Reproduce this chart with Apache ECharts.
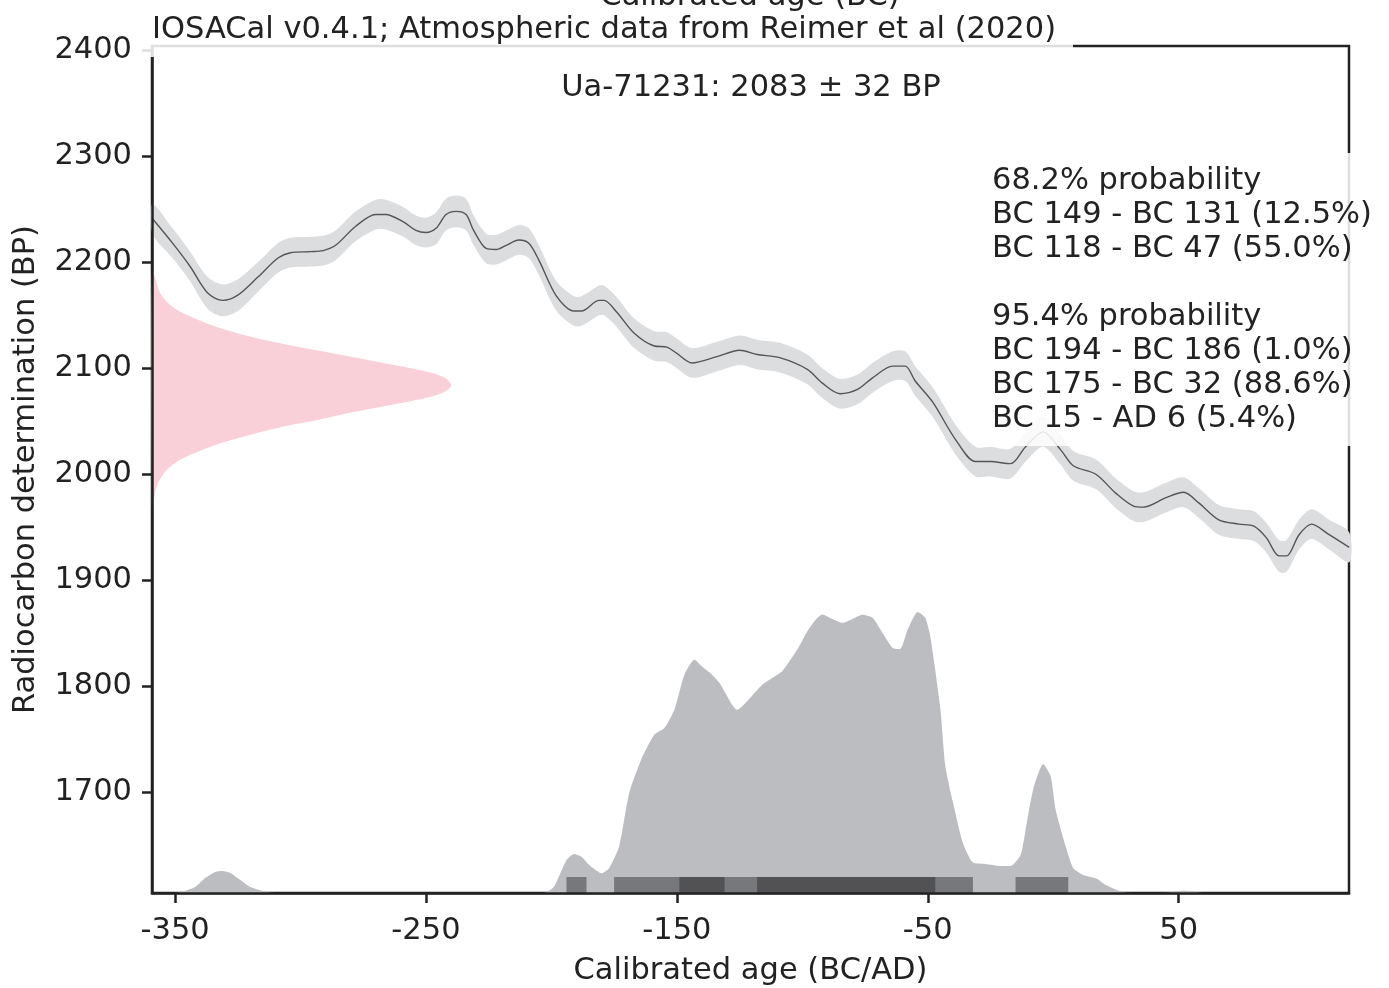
<!DOCTYPE html>
<html>
<head>
<meta charset="utf-8">
<title>Ua-71231 calibration</title>
<script src="https://cdn.jsdelivr.net/npm/echarts@6/dist/echarts.min.js"></script>
<style>
  html, body { margin: 0; padding: 0; background: #fff; }
  #chart { width: 1389px; height: 988px; }
</style>
</head>
<body>
<div id="chart"></div>
<script>
// calibration curve: age, BP, 1 sigma
var curveAge = [-359, -351, -344, -337, -331, -325, -317, -309, -304, -296,
    -291, -286, -278, -270, -266, -259, -254, -250, -246, -242,
    -238, -234, -231, -226, -222, -218, -213, -209, -205, -198,
    -191, -188, -181, -179, -174, -167, -159, -154, -150, -144,
    -134, -125, -118, -109, -98, -92, -85, -78, -72, -64,
    -59, -55, -48, -39, -31, -25, -17, -11, -4, 3,
    8, 17, 25, 32, 36, 45, 52, 58, 66, 74,
    80, 85, 90, 93, 98, 103, 110, 118];
var curveBP = [2241, 2218, 2196, 2171, 2164, 2169, 2186, 2204, 2209, 2210,
    2211, 2216, 2234, 2245, 2245, 2238, 2230, 2228, 2232, 2245,
    2248, 2245, 2230, 2213, 2212, 2216, 2221, 2218, 2202, 2168,
    2154, 2154, 2164, 2164, 2153, 2133, 2121, 2120, 2114, 2105,
    2111, 2117, 2113, 2110, 2099, 2086, 2076, 2080, 2091, 2102,
    2102, 2088, 2068, 2033, 2012, 2012, 2010, 2026, 2040, 2023,
    2008, 2000, 1982, 1970, 1969, 1978, 1983, 1973, 1957, 1953,
    1951, 1940, 1923, 1923, 1943, 1953, 1943, 1931];
var curveErr = [14, 14, 14, 15, 15, 15, 14, 14, 14, 14,
    14, 14, 14, 14, 14, 14, 14, 14, 15, 15,
    15, 15, 14, 14, 14, 14, 14, 14, 14, 14,
    14, 14, 14, 14, 14, 14, 14, 14, 14, 14,
    14, 14, 14, 14, 14, 14, 14, 14, 14, 14,
    14, 14, 14, 14, 14, 14, 14, 14, 14, 14,
    14, 14, 14, 14, 14, 14, 14, 14, 14, 14,
    14, 14, 15, 15, 14, 14, 14, 14];

// radiocarbon determination 2083 +- 32 (relative density)
var pinkBP = [2193, 2171, 2160, 2152, 2139, 2130, 2123, 2117, 2111, 2105, 2099, 2092, 2084,
    2077, 2070, 2064, 2058, 2051, 2045, 2037, 2028, 2015, 2004, 1989, 1970, 1960];
var pinkDens = [0, 0.027, 0.06, 0.104, 0.216, 0.327, 0.438, 0.55, 0.661, 0.772, 0.883, 0.972, 1,
    0.972, 0.883, 0.772, 0.661, 0.55, 0.438, 0.327, 0.216, 0.104, 0.049, 0.016, 0.004, 0];

// calibrated probability (relative)
var distAge = [-350, -347, -342, -338, -334, -331, -328, -324, -320, -315, -310,
    -203, -199, -194, -191, -188, -185, -180, -177, -173, -169,
    -164, -159, -155, -151, -147, -143, -140, -136, -133, -128,
    -126, -124, -120, -116, -112, -108, -102, -98, -94, -92,
    -88, -84, -80, -76, -72, -68, -64, -61, -58, -54,
    -51, -49, -45, -43, -40, -36, -32, -27, -21, -17,
    -13, -11, -8, -4, -1, 1, 5, 8, 12, 17,
    21, 27, 32, 45, 52, 60];
var distP = [0, 0.004, 0.021, 0.053, 0.075, 0.078, 0.071, 0.046, 0.021, 0.007, 0,
    0, 0.022, 0.117, 0.139, 0.129, 0.1, 0.07, 0.088, 0.165, 0.355,
    0.479, 0.562, 0.586, 0.651, 0.776, 0.829, 0.805, 0.776, 0.746, 0.669,
    0.651, 0.663, 0.701, 0.74, 0.764, 0.788, 0.865, 0.93, 0.978, 0.99,
    0.974, 0.96, 0.974, 0.989, 0.978, 0.924, 0.871, 0.867, 0.936, 0.999,
    0.978, 0.912, 0.657, 0.452, 0.324, 0.178, 0.108, 0.103, 0.096, 0.096,
    0.135, 0.224, 0.367, 0.458, 0.414, 0.295, 0.165, 0.088, 0.064, 0.052,
    0.028, 0.005, 0, 0.001, 0.008, 0];

// intervals
var range95 = [[-194, -186], [-175, -32], [-15, 6]];
var range68 = [[-149, -131], [-118, -47]];

var xTicks = [-350, -250, -150, -50, 50];
var yTicks = [1700, 1800, 1900, 2000, 2100, 2200, 2300, 2400];

var boxText = [
    '68.2% probability',
    'BC 149 - BC 131 (12.5%)',
    'BC 118 - BC 47 (55.0%)',
    '',
    '95.4% probability',
    'BC 194 - BC 186 (1.0%)',
    'BC 175 - BC 32 (88.6%)',
    'BC 15 - AD 6 (5.4%)'
].join('\n');

var FONT = '"DejaVu Sans", sans-serif';
var FS = 30.5;
var INK = '#222222';

var chart = echarts.init(document.getElementById('chart'), null, { renderer: 'canvas' });

function bandItem(params, api) {
    if (params.dataIndex !== 0) return;
    var pts = [];
    for (var i = 0; i < curveAge.length; i++) {
        pts.push(api.coord([curveAge[i], curveBP[i] + curveErr[i]]));
    }
    for (var j = curveAge.length - 1; j >= 0; j--) {
        pts.push(api.coord([curveAge[j], curveBP[j] - curveErr[j]]));
    }
    return { type: 'polygon', shape: { points: pts, smooth: 0.3 }, style: { fill: '#dcdddf' } };
}

function pinkItem(params, api) {
    if (params.dataIndex !== 0) return;
    var pts = [];
    for (var i = 0; i < pinkBP.length; i++) {
        pts.push(api.coord([pinkDens[i], pinkBP[i]]));
    }
    return { type: 'polygon', shape: { points: pts, smooth: 0.3 }, style: { fill: '#f9d0d7' } };
}

function barItem(color) {
    return function (params, api) {
        var p0 = api.coord([api.value(0), 0]);
        var p1 = api.coord([api.value(1), 0]);
        return {
            type: 'rect',
            shape: { x: p0[0], y: p0[1] - 16, width: p1[0] - p0[0], height: 16 },
            style: { fill: color }
        };
    };
}

var axisLineStyle = { color: INK, width: 2.5 };

var option = {
    animation: false,
    backgroundColor: '#ffffff',
    grid: {
        left: 152, right: 40, top: 46, bottom: 95,
        outerBoundsMode: 'none', containLabel: false,
        show: true, borderColor: INK, borderWidth: 2.5, backgroundColor: 'transparent'
    },
    xAxis: [
        {
            type: 'value', min: -359.2, max: 117.9, position: 'bottom', z: 10,
            axisLine: { show: true, onZero: false, lineStyle: axisLineStyle },
            axisTick: { show: true, length: 10, customValues: xTicks, lineStyle: axisLineStyle },
            axisLabel: {
                customValues: xTicks, fontSize: FS, fontFamily: FONT, color: INK, margin: 23,
                formatter: function (v) { return String(v); }
            },
            splitLine: { show: false },
            name: 'Calibrated age (BC/AD)', nameLocation: 'middle', nameGap: 63,
            nameTextStyle: { fontSize: FS, fontFamily: FONT, color: INK }
        },
        { type: 'value', min: 0, max: 4, show: false }
    ],
    yAxis: [
        {
            type: 'value', min: 1605, max: 2404, position: 'left', z: 10,
            axisLine: { show: true, onZero: false, lineStyle: axisLineStyle },
            axisTick: { show: true, length: 10, customValues: yTicks, lineStyle: axisLineStyle },
            axisLabel: {
                customValues: yTicks, fontSize: FS, fontFamily: FONT, color: INK, margin: 20,
                formatter: function (v) { return String(v); }
            },
            splitLine: { show: false },
            name: 'Radiocarbon determination (BP)', nameLocation: 'middle', nameGap: 110, nameRotate: 90,
            nameTextStyle: { fontSize: FS, fontFamily: FONT, color: INK }
        },
        { type: 'value', min: 0, max: 3.01, show: false }
    ],
    series: [
        {
            type: 'custom', name: 'band', xAxisIndex: 0, yAxisIndex: 0, z: 2,
            renderItem: bandItem, data: [[curveAge[0], curveBP[0]]], silent: true
        },
        {
            type: 'line', name: 'curve', xAxisIndex: 0, yAxisIndex: 0, z: 3,
            data: curveAge.map(function (a, i) { return [a, curveBP[i]]; }),
            showSymbol: false, symbol: 'none', smooth: 0.3,
            lineStyle: { color: '#555558', width: 1.4 }
        },
        {
            type: 'custom', name: 'pink', xAxisIndex: 1, yAxisIndex: 0, z: 2,
            renderItem: pinkItem, data: [[pinkDens[0], pinkBP[0]]], silent: true
        },
        {
            type: 'line', name: 'calibrated', xAxisIndex: 0, yAxisIndex: 1, z: 2,
            data: distAge.map(function (a, i) { return [a, distP[i]]; }),
            showSymbol: false, symbol: 'none', smooth: 0.2,
            lineStyle: { width: 0, opacity: 0 },
            areaStyle: { color: '#bcbdc1', opacity: 1 }
        },
        {
            type: 'custom', name: '95.4%', xAxisIndex: 0, yAxisIndex: 1, z: 4,
            renderItem: barItem('#77787c'), data: range95, encode: { x: [0, 1] }
        },
        {
            type: 'custom', name: '68.2%', xAxisIndex: 0, yAxisIndex: 1, z: 5,
            renderItem: barItem('#525255'), data: range68, encode: { x: [0, 1] }
        }
    ],
    graphic: {
        elements: [
            {
                type: 'rect', z: 100,
                shape: { x: 140, y: 8, width: 933, height: 49 },
                style: { fill: 'rgba(255,255,255,0.85)' }
            },
            {
                type: 'text', z: 101, x: 152, y: 30,
                style: {
                    text: 'IOSACal v0.4.1; Atmospheric data from Reimer et al (2020)',
                    font: FS + 'px ' + FONT, fill: INK, verticalAlign: 'middle', align: 'left'
                }
            },
            {
                type: 'text', z: 102, x: 750, y: -3,
                style: {
                    text: 'Calibrated age (BC)',
                    font: FS + 'px ' + FONT, fill: INK, verticalAlign: 'middle', align: 'center'
                }
            },
            {
                type: 'text', z: 101, x: 751, y: 88,
                style: {
                    text: 'Ua-71231: 2083 \u00b1 32 BP',
                    font: FS + 'px ' + FONT, fill: INK, verticalAlign: 'middle', align: 'center'
                }
            },
            {
                type: 'rect', z: 100,
                shape: { x: 984, y: 153, width: 400, height: 293 },
                style: { fill: 'rgba(255,255,255,0.85)' }
            },
            {
                type: 'text', z: 101, x: 992, y: 164,
                style: {
                    text: boxText, font: FS + 'px ' + FONT, lineHeight: 34,
                    fill: INK, verticalAlign: 'top', align: 'left'
                }
            }
        ]
    }
};

chart.setOption(option);
</script>
</body>
</html>
